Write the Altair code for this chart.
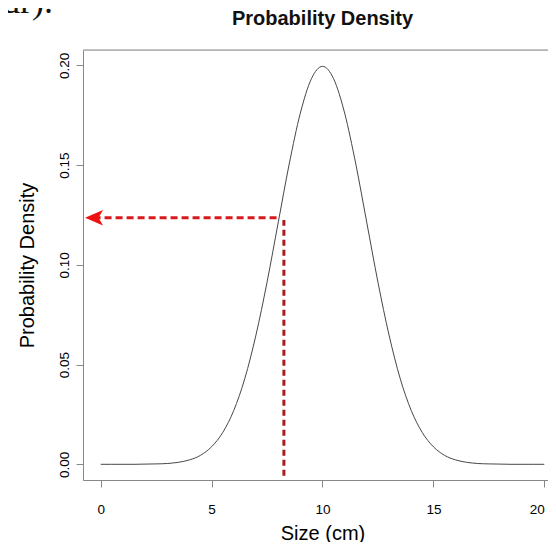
import altair as alt
import pandas as pd

# ---- data ----
size_cm = [0, 0.5, 1, 1.5, 2, 2.5, 3, 3.5, 4, 4.5, 5, 5.5, 6, 6.5, 7, 7.5, 8, 8.5, 9, 9.5,
           10, 10.5, 11, 11.5, 12, 12.5, 13, 13.5, 14, 14.5, 15, 15.5, 16, 16.5, 17, 17.5,
           18, 18.5, 19, 19.5, 20]
density = [0.0000, 0.0000, 0.0000, 0.0000, 0.0001, 0.0002, 0.0004, 0.0010, 0.0022, 0.0045,
           0.0088, 0.0159, 0.0270, 0.0431, 0.0648, 0.0913, 0.1210, 0.1506, 0.1760, 0.1933,
           0.1995, 0.1933, 0.1760, 0.1506, 0.1210, 0.0913, 0.0648, 0.0431, 0.0270, 0.0159,
           0.0088, 0.0045, 0.0022, 0.0010, 0.0004, 0.0002, 0.0001, 0.0000, 0.0000, 0.0000,
           0.0000]

guide_x = [8.26]
guide_y_low = [-0.0057]
guide_y_high = [0.1225]

arrow_y = [0.1236]
arrow_x_from = [7.93]
arrow_x_to = [-0.30]

x_ticks = [0, 5, 10, 15, 20]
y_ticks = [0.00, 0.05, 0.10, 0.15, 0.20]
x_domain = [-0.798, 20.167]
y_domain = [-0.00787, 0.2077]

title_text = ["Probability Density"]
x_title = "Size (cm)"
y_title = "Probability Density"
fragment_text = ["dr)."]

# ---- tables ----
curve_df = pd.DataFrame({"size": size_cm, "density": density})
vguide_df = pd.DataFrame({"gx": guide_x, "gy1": guide_y_low, "gy2": guide_y_high})
hguide_df = pd.DataFrame({"hx1": arrow_x_from, "hx2": arrow_x_to, "hy": arrow_y})
arrow_df = pd.DataFrame({"ax": arrow_x_to, "ay": arrow_y})
title_df = pd.DataFrame({"t": title_text})
frag_df = pd.DataFrame({"t": fragment_text})

FONT = "Liberation Sans"
GRAY = "#8a8a8a"
PLOT_W = 465
PLOT_H = 430

xs = alt.Scale(domain=x_domain, nice=False, zero=False)
ys = alt.Scale(domain=y_domain, nice=False, zero=False)

xaxis = alt.Axis(values=x_ticks, title=x_title, grid=False, tickSize=7,
                 labelBaseline="alphabetic", labelPadding=26, labelFontSize=13.5,
                 labelFlush=5, labelOverlap=False, format="d",
                 titleFontSize=20, titleFontWeight="normal", titleX=239.5, titleY=59,
                 titleBaseline="alphabetic", titleAlign="center")
yaxis = alt.Axis(values=y_ticks, title=y_title, grid=False, tickSize=7, format=".2f",
                 labelAngle=270, labelAlign="center", labelBaseline="alphabetic",
                 labelPadding=8, labelFontSize=13.5, labelFlush=False, labelOverlap=False,
                 titleFontSize=20, titleFontWeight="normal", titleAngle=270,
                 titleX=-50, titleY=215, titleAlign="center", titleBaseline="alphabetic")

curve = alt.Chart(curve_df).mark_line(color="#474747", strokeWidth=1, interpolate="monotone").encode(
    x=alt.X("size:Q", scale=xs, axis=xaxis),
    y=alt.Y("density:Q", scale=ys, axis=yaxis),
)

top_border = alt.Chart(title_df).mark_rule(color=GRAY, strokeWidth=1).encode(
    x=alt.value(0), x2=alt.value(PLOT_W), y=alt.value(0)
)

vguide = alt.Chart(vguide_df).mark_rule(color="#a81e1e", strokeWidth=3, strokeDash=[6, 4]).encode(
    x=alt.X("gx:Q", scale=xs, axis=xaxis),
    y=alt.Y("gy1:Q", scale=ys, axis=yaxis),
    y2="gy2:Q",
)

hguide = alt.Chart(hguide_df).mark_rule(color="#d91a1c", strokeWidth=3, strokeDash=[7, 4]).encode(
    x=alt.X("hx1:Q", scale=xs, axis=xaxis),
    x2="hx2:Q",
    y=alt.Y("hy:Q", scale=ys, axis=yaxis),
)

arrow = alt.Chart(arrow_df).mark_point(
    shape="M -1 0 L 1 -0.85 L 0.5 0 L 1 0.85 Z", filled=True, size=324,
    color="#ee1111", opacity=1, strokeWidth=0,
).encode(
    x=alt.X("ax:Q", scale=xs, axis=xaxis),
    y=alt.Y("ay:Q", scale=ys, axis=yaxis),
)

title = alt.Chart(title_df).mark_text(
    font=FONT, fontSize=20, fontWeight="bold", color="#111", align="center", baseline="alphabetic"
).encode(x=alt.value(239.5), y=alt.value(-25), text="t:N")

frag = alt.Chart(frag_df).mark_text(
    font="Liberation Serif", fontSize=36, color="#111", align="right", baseline="alphabetic"
).encode(x=alt.value(-30), y=alt.value(-37), text="t:N")

chart = alt.layer(curve, top_border, vguide, hguide, arrow, title, frag).properties(
    width=PLOT_W, height=PLOT_H,
    autosize=alt.AutoSizeParams(type="none"),
    padding={"left": 75, "top": 42, "right": 0, "bottom": 62},
).configure_view(stroke=None).configure_axis(
    domainColor=GRAY, tickColor=GRAY, labelColor="#333", titleColor="#111",
    labelFont=FONT, titleFont=FONT, domainWidth=1, tickWidth=1,
).configure(background="white")

chart.save("out.html", embed_options={"renderer": "svg", "actions": False})
